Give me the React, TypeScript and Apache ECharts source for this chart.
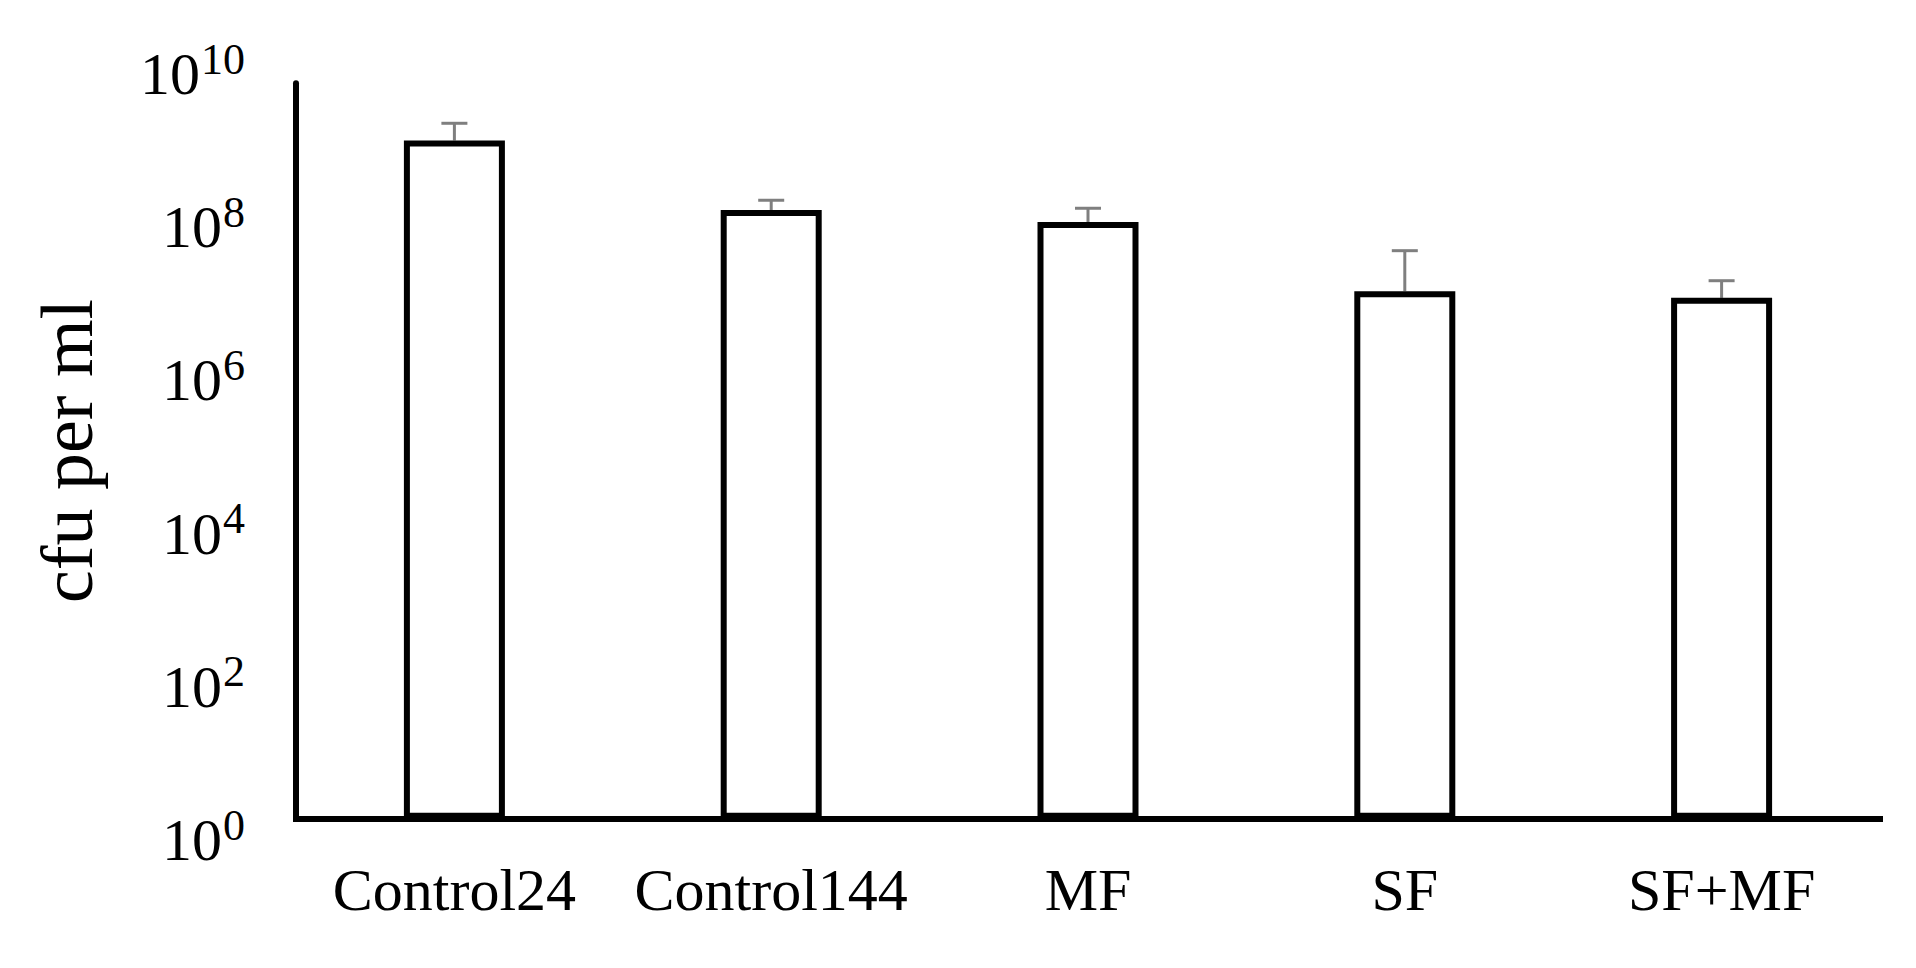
import React, { useEffect, useRef } from "react";
import * as echarts from "echarts";

const categories = ["Control24", "Control144", "MF", "SF", "SF+MF"];
const cfuMeans = [1.67e9, 1.89e8, 1.3e8, 1.49e7, 1.21e7];
const cfuUpper = [2.86e9, 2.57e8, 2.0e8, 5.3e7, 2.07e7];
const tickExponents = [0, 2, 4, 6, 8, 10];
const yTitle = "cfu per ml";

const FONT = "'Liberation Serif', 'Times New Roman', serif";

function buildRich() {
  const rich: Record<string, any> = {};
  tickExponents.forEach((n) => {
    const d = 21.2 - 3.05 * n;
    const ds = d - 15;
    rich["b" + n] = {
      fontFamily: FONT,
      fontSize: 60,
      color: "#000",
      padding: [d > 0 ? 2 * d : 0, 0, d < 0 ? -2 * d : 0, 0],
    };
    rich["s" + n] = {
      fontFamily: FONT,
      fontSize: 44,
      color: "#000",
      padding: [ds > 0 ? 2 * ds : 0, 0, ds < 0 ? -2 * ds : 0, 1],
    };
  });
  return rich;
}

export default function App() {
  const ref = useRef<HTMLDivElement>(null);
  useEffect(() => {
    if (!ref.current) return;
    const chart = echarts.init(ref.current, null, { renderer: "svg" });
    chart.setOption({
      animation: false,
      backgroundColor: "#fff",
      grid: { left: 296, right: 36, top: 83.3, bottom: 149.2, containLabel: false },
      xAxis: {
        type: "category",
        data: categories,
        axisLine: { lineStyle: { color: "#000", width: 6, cap: "square" } },
        axisTick: { show: false },
        axisLabel: {
          color: "#000",
          fontFamily: FONT,
          fontSize: 60,
          lineHeight: 60,
          margin: 41,
          interval: 0,
        },
        splitLine: { show: false },
      },
      yAxis: {
        type: "log",
        logBase: 10,
        min: 1,
        max: 1e10,
        interval: 2,
        name: yTitle,
        nameLocation: "middle",
        nameRotate: 90,
        nameGap: 192,
        nameTextStyle: { color: "#000", fontFamily: FONT, fontSize: 74, lineHeight: 74 },
        axisLine: { show: true, lineStyle: { color: "#000", width: 6 } },
        axisTick: { show: false },
        splitLine: { show: false },
        axisLabel: {
          margin: 51,
          showMinLabel: true,
          showMaxLabel: true,
          formatter: (v: number) => {
            const n = Math.round(Math.log10(v));
            return `{b${n}|10}{s${n}|${n}}`;
          },
          rich: buildRich(),
        },
      },
      series: [
        {
          type: "custom",
          z: 1,
          encode: { x: 0, y: [1, 2] },
          data: categories.map((_, i) => [i, cfuMeans[i], cfuUpper[i]]),
          renderItem: (params: any, api: any) => {
            const i = api.value(0);
            const base = api.coord([i, api.value(1)]);
            const top = api.coord([i, api.value(2)]);
            const hw = 13;
            const st = { stroke: "#7f7f7f", lineWidth: 3 };
            return {
              type: "group",
              children: [
                { type: "line", shape: { x1: base[0], y1: base[1], x2: top[0], y2: top[1] }, style: st },
                { type: "line", shape: { x1: top[0] - hw, y1: top[1], x2: top[0] + hw, y2: top[1] }, style: st },
              ],
            };
          },
        },
        {
          type: "bar",
          z: 2,
          data: cfuMeans,
          barWidth: 101,
          itemStyle: { color: "#fff", borderColor: "#000", borderWidth: 6 },
        },
      ],
    });
    return () => chart.dispose();
  }, []);
  return (
    <div
      ref={ref}
      style={{ position: "fixed", left: 0, top: 0, width: 1916, height: 968, background: "#fff" }}
    />
  );
}
